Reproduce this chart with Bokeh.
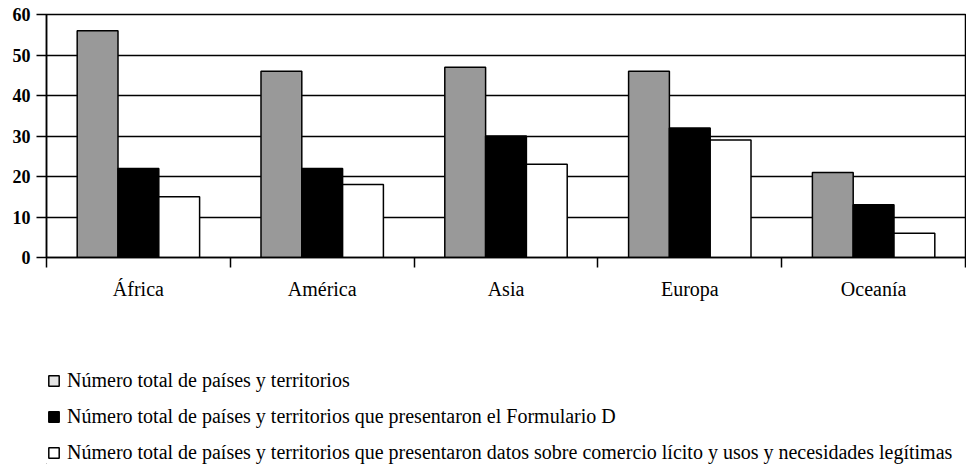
from bokeh.plotting import figure
from bokeh.layouts import column
from bokeh.models import ColumnDataSource, FixedTicker, Legend, LegendItem, Range1d
from bokeh.embed import file_html
from bokeh.resources import INLINE

# ---- data ----
regions = ["África", "América", "Asia", "Europa", "Oceanía"]
total_paises = [56, 46, 47, 46, 21]
formulario_d = [22, 22, 30, 32, 13]
comercio_licito = [15, 18, 23, 29, 6]
y_ticks = [0, 10, 20, 30, 40, 50, 60]
series_labels = [
    "Número total de países y territorios",
    "Número total de países y territorios que presentaron el Formulario D",
    "Número total de países y territorios que presentaron datos sobre comercio lícito y usos y necesidades legítimas",
]

# ---- styles ----
FONT = "Liberation Serif"
bar_colors = ["#999999", "#000000", "#ffffff"]
swatch_colors = ["#e4e4e4", "#000000", "#ffffff"]
bar_w = 0.222
offsets = [-bar_w, 0.0, bar_w]

p = figure(width=966, height=302,
           x_range=Range1d(0, len(regions)), y_range=Range1d(0, 60),
           output_backend="svg", toolbar_location=None,
           min_border_left=46, min_border_right=1,
           min_border_top=14, min_border_bottom=44)

centers = [i + 0.5 for i in range(len(regions))]
series = [total_paises, formulario_d, comercio_licito]
for vals, col, off in zip(series, bar_colors, offsets):
    src = ColumnDataSource(dict(x=[c + off for c in centers], top=vals, region=regions))
    p.vbar(x="x", top="top", bottom=0, width=bar_w, source=src,
           fill_color=col, line_color="black", line_width=1.5)

# x axis: labels at category centres, tick marks at category boundaries
xa = p.xaxis[0]
xa.ticker = FixedTicker(ticks=centers, minor_ticks=list(range(len(regions) + 1)))
xa.major_label_overrides = {c: r for c, r in zip(centers, regions)}
xa.major_tick_out = 0
xa.major_tick_in = 0
xa.minor_tick_out = 10
xa.minor_tick_in = 0
xa.minor_tick_line_color = "black"
xa.minor_tick_line_width = 1.5
xa.axis_line_color = "black"
xa.axis_line_width = 1.5
xa.major_label_text_font = FONT
xa.major_label_text_font_size = "20px"
xa.major_label_text_color = "black"
xa.major_label_standoff = 10

ya = p.yaxis[0]
ya.ticker = FixedTicker(ticks=y_ticks)
ya.major_tick_out = 10
ya.major_tick_in = 0
ya.major_tick_line_color = "black"
ya.major_tick_line_width = 1.5
ya.minor_tick_line_color = None
ya.axis_line_color = "black"
ya.axis_line_width = 1.5
ya.major_label_text_font = FONT
ya.major_label_text_font_style = "bold"
ya.major_label_text_font_size = "18px"
ya.major_label_text_color = "black"
ya.major_label_standoff = 6

p.xgrid.grid_line_color = None
p.ygrid.ticker = FixedTicker(ticks=y_ticks)
p.ygrid.grid_line_color = "black"
p.ygrid.grid_line_width = 1.4

p.outline_line_color = "black"
p.outline_line_width = 1.5
p.background_fill_color = "white"
p.border_fill_color = "white"

# ---- legend panel (separate figure below the chart) ----
lp = figure(width=966, height=162,
            x_range=Range1d(0, 1), y_range=Range1d(0, 1),
            output_backend="svg", toolbar_location=None,
            x_axis_location=None, y_axis_location=None,
            min_border=0, outline_line_color=None)
lp.grid.visible = False

dummy = ColumnDataSource(dict(x=[-10], top=[-10]))
items = []
for lab, col in zip(series_labels, swatch_colors):
    r = lp.vbar(x="x", top="top", bottom=-11, width=0.1, source=dummy,
                fill_color=col, line_color="black", line_width=1.5)
    items.append(LegendItem(label=lab, renderers=[r]))

legend = Legend(items=items, location=(1, 0),
                orientation="vertical",
                glyph_width=13, glyph_height=13,
                label_height=20, label_standoff=7,
                spacing=13, padding=0, margin=0,
                label_text_font=FONT, label_text_font_size="20px",
                label_text_color="black",
                border_line_color=None, background_fill_alpha=0)
lp.add_layout(legend)

layout = column(p, lp, spacing=0)
open("out.html", "w").write(file_html(layout, INLINE))
